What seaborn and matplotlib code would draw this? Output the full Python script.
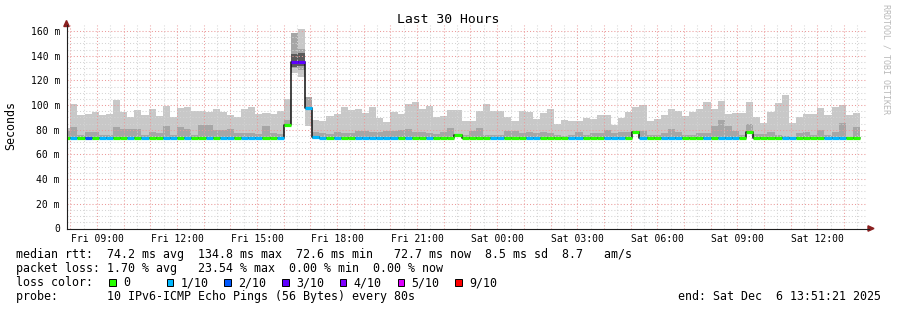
import numpy as np
import matplotlib
matplotlib.use("Agg")
import matplotlib.pyplot as plt
import seaborn as sns
from matplotlib.patches import Rectangle, Polygon
from matplotlib.lines import Line2D
from matplotlib.ticker import FixedLocator, FuncFormatter

sns.set_theme(style="white")
plt.rcParams['font.family'] = ['DejaVu Sans Mono', 'DejaVu Sans']

# ---------------- data (16-minute bins, index = bin number since Fri 00:00) ----------------
first_bin = 29
bin_minutes = 16

ping_max = [81.5, 101.0, 92.0, 92.8, 94.0, 92.0, 92.8, 104.0, 94.7, 90.1,
            96.0, 92.0, 96.6, 91.2, 99.3, 90.0, 98.0, 98.5, 95.3, 95.3,
            94.5, 96.8, 94.5, 92.3, 90.6, 96.8, 98.4, 93.1, 93.6, 92.5,
            95.0, 105.2, 158.7, 162.0, 106.5, 87.9, 87.2, 91.2, 93.1, 98.4,
            95.8, 96.8, 93.8, 98.4, 89.6, 86.5, 94.7, 92.8, 100.9, 102.5,
            96.8, 99.3, 90.7, 91.2, 96.0, 96.0, 87.2, 87.2, 95.2, 100.6,
            95.2, 95.2, 90.1, 87.2, 95.2, 94.7, 88.8, 93.9, 96.6, 84.5,
            87.9, 87.2, 87.2, 89.6, 88.8, 91.7, 91.6, 83.5, 89.7, 94.5,
            98.7, 100.0, 87.2, 88.6, 92.0, 97.0, 95.2, 91.2, 94.0, 97.0,
            102.3, 96.7, 103.3, 92.6, 93.5, 93.5, 102.4, 90.2, 85.3, 94.2,
            101.4, 107.9, 85.8, 90.3, 92.8, 92.8, 97.8, 92.0, 98.2, 100.1,
            91.8, 93.3]

ping_min = [72.5, 72.5, 72.5, 72.5, 72.5, 72.5, 72.5, 72.5, 72.5, 72.5,
            72.5, 72.5, 72.5, 72.5, 72.5, 72.5, 72.5, 72.5, 72.5, 72.5,
            72.5, 72.5, 72.5, 72.5, 72.5, 72.5, 72.5, 72.5, 72.5, 72.5,
            72.5, 83.0, 125.7, 123.0, 83.0, 72.5, 72.5, 72.5, 72.5, 72.5,
            72.5, 72.5, 72.5, 72.5, 72.5, 72.5, 72.5, 72.5, 72.5, 72.5,
            72.5, 72.5, 72.5, 72.5, 72.5, 75.0, 72.5, 72.5, 72.5, 72.5,
            72.5, 72.5, 72.5, 72.5, 72.5, 72.5, 72.5, 72.5, 72.5, 72.5,
            72.5, 72.5, 72.5, 72.5, 72.5, 72.5, 72.5, 72.5, 72.5, 72.5,
            77.5, 72.5, 72.5, 72.5, 72.5, 72.5, 72.5, 72.5, 72.5, 72.5,
            72.5, 72.5, 72.5, 72.5, 72.5, 72.5, 77.5, 72.5, 72.5, 72.5,
            72.5, 72.5, 72.5, 72.5, 72.5, 72.5, 72.5, 72.5, 72.5, 72.5,
            72.5, 72.5]

mid_low = [72.5, 72.5, 72.5, 72.5, 72.5, 72.5, 72.5, 72.5, 72.5, 72.5,
           72.5, 72.5, 72.5, 72.5, 72.5, 72.5, 72.5, 72.5, 72.5, 72.5,
           72.5, 72.5, 72.5, 72.5, 72.5, 72.5, 72.5, 72.5, 72.5, 72.5,
           72.5, 83.0, 129.7, 128.3, 97.0, 72.5, 72.5, 72.5, 72.5, 72.5,
           72.5, 72.5, 72.5, 72.5, 72.5, 72.5, 72.5, 72.5, 72.5, 72.5,
           72.5, 72.5, 72.5, 72.5, 72.5, 75.0, 72.5, 72.5, 72.5, 72.5,
           72.5, 72.5, 72.5, 72.5, 72.5, 72.5, 72.5, 72.5, 72.5, 72.5,
           72.5, 72.5, 72.5, 72.5, 72.5, 72.5, 72.5, 72.5, 72.5, 72.5,
           77.5, 72.5, 72.5, 72.5, 72.5, 72.5, 72.5, 72.5, 72.5, 72.5,
           72.5, 72.5, 72.5, 72.5, 72.5, 72.5, 77.5, 72.5, 72.5, 72.5,
           72.5, 72.5, 72.5, 72.5, 72.5, 72.5, 72.5, 72.5, 72.5, 72.5,
           72.5, 72.5]

mid_high = [79.0, 82.0, 76.0, 78.0, 78.0, 76.0, 76.0, 82.6, 80.7, 80.7,
            80.7, 76.0, 78.5, 77.2, 83.0, 76.0, 82.6, 80.7, 76.0, 84.2,
            84.2, 79.6, 80.0, 80.5, 77.7, 77.7, 77.7, 76.3, 82.7, 77.7,
            76.3, 88.0, 158.7, 145.8, 106.5, 78.3, 77.2, 76.7, 78.3, 77.7,
            77.2, 79.1, 79.1, 78.3, 78.3, 79.3, 79.3, 80.0, 80.7, 77.8,
            78.3, 77.2, 76.6, 78.5, 81.8, 75.9, 75.9, 79.3, 81.3, 75.9,
            75.9, 75.9, 79.3, 79.3, 77.2, 77.8, 77.2, 78.5, 77.2, 75.9,
            75.1, 75.9, 78.5, 75.9, 77.2, 77.2, 80.0, 77.2, 77.8, 78.3,
            79.3, 79.3, 75.9, 75.9, 77.2, 80.7, 77.8, 75.9, 75.9, 77.2,
            77.2, 83.0, 88.3, 83.0, 79.3, 75.9, 84.9, 76.6, 76.6, 77.8,
            75.9, 75.1, 74.5, 77.2, 77.8, 75.9, 80.0, 75.9, 78.5, 85.8,
            74.5, 82.6]

# darkest smoke core (only during the spike bins 61 and 62)
core_bins = [61, 62]
core_low = [131.0, 131.5]
core_high = [141.0, 142.0]

median = [73.3, 73.3, 73.3, 73.3, 73.3, 73.3, 73.3, 73.3, 73.3, 73.3,
          73.3, 73.3, 73.3, 73.3, 73.3, 73.3, 73.3, 73.3, 73.3, 73.3,
          73.3, 73.3, 73.3, 73.3, 73.3, 73.3, 73.3, 73.3, 73.3, 73.3,
          73.3, 83.8, 135.2, 135.0, 97.5, 74.3, 73.3, 73.3, 73.3, 73.3,
          73.3, 73.3, 73.3, 73.3, 73.3, 73.3, 73.3, 73.3, 73.3, 73.3,
          73.3, 73.3, 73.3, 73.3, 73.3, 75.5, 73.3, 73.3, 73.3, 73.3,
          73.3, 73.3, 73.3, 73.3, 73.3, 73.3, 73.3, 73.3, 73.3, 73.3,
          73.3, 73.3, 73.3, 73.3, 73.3, 73.3, 73.3, 73.3, 73.3, 73.3,
          78.5, 73.3, 73.3, 73.3, 73.3, 73.3, 73.3, 73.3, 73.3, 73.3,
          73.3, 73.3, 73.3, 73.3, 73.3, 73.3, 78.5, 73.3, 73.3, 73.3,
          73.3, 73.3, 73.3, 73.3, 73.3, 73.3, 73.3, 73.3, 73.3, 73.3,
          73.3, 73.3]

loss = [0, 1, 0, 2, 0, 1, 1, 0, 0, 1,
        0, 1, 0, 0, 1, 1, 0, 1, 0, 0,
        1, 0, 1, 1, 0, 1, 1, 1, 0, 0,
        1, 0, 3, 3, 1, 1, 1, 0, 1, 0,
        0, 1, 1, 1, 1, 1, 1, 0, 1, 0,
        0, 1, 0, 0, 0, 0, 0, 0, 0, 0,
        1, 1, 0, 0, 0, 1, 1, 0, 0, 0,
        0, 1, 1, 0, 0, 0, 1, 1, 1, 0,
        0, 1, 0, 0, 1, 1, 1, 0, 0, 0,
        1, 0, 1, 1, 1, 0, 0, 0, 0, 0,
        0, 1, 1, 0, 0, 0, 0, 1, 1, 1,
        0, 0]

loss_labels = ["0", "1/10", "2/10", "3/10", "4/10", "5/10", "9/10"]
loss_colors = ["#26ff00", "#00b8ff", "#0059ff", "#5e00ff", "#7e00ff", "#dd00ff", "#ff0000"]

y_ticks = [0, 20, 40, 60, 80, 100, 120, 140, 160]
x_label_hours = [9, 12, 15, 18, 21, 24, 27, 30, 33, 36]
x_labels = ["Fri 09:00", "Fri 12:00", "Fri 15:00", "Fri 18:00", "Fri 21:00",
            "Sat 00:00", "Sat 03:00", "Sat 06:00", "Sat 09:00", "Sat 12:00"]

title = "Last 30 Hours"
legend_lines = [
    "median rtt:  74.2 ms avg  134.8 ms max  72.6 ms min   72.7 ms now  8.5 ms sd  8.7   am/s",
    "packet loss: 1.70 % avg   23.54 % max  0.00 % min  0.00 % now",
    "loss color:",
    "probe:       10 IPv6-ICMP Echo Pings (56 Bytes) every 80s",
]
end_text = "end: Sat Dec  6 13:51:21 2025"

# ---------------- figure ----------------
W, H = 897, 310
fig = plt.figure(figsize=(W / 100, H / 100), dpi=100)
fig.patch.set_facecolor("white")

ax_l, ax_r, ax_t, ax_b = 66.5, 866.8, 25.0, 228.5
ax = fig.add_axes([ax_l / W, 1 - ax_b / H, (ax_r - ax_l) / W, (ax_b - ax_t) / H])
ax.set_facecolor("white")

bw = bin_minutes / 60.0
n = len(ping_max)
left = (first_bin + np.arange(n)) * bw
pmin = np.array(ping_min)
pmax = np.array(ping_max)
mlo = np.array(mid_low)
mhi = np.array(mid_high)
med = np.array(median)

ax.bar(left, pmax - pmin, bottom=pmin, width=bw, align="edge", color="#c8c8c8",
       linewidth=0, antialiased=False, zorder=1)
ax.bar(left, mhi - mlo, bottom=mlo, width=bw, align="edge", color="#a6a6a6",
       linewidth=0, antialiased=False, zorder=1.1)
cb = np.array(core_bins) * bw
ax.bar(cb, np.array(core_high) - np.array(core_low), bottom=core_low, width=bw,
       align="edge", color="#5a5a5a", linewidth=0, antialiased=False, zorder=1.2)

edges = np.append(left, left[-1] + bw)
med_ext = np.append(med, med[-1])
sns.lineplot(x=edges, y=med_ext, drawstyle="steps-post", color="#101010",
             linewidth=1.1, ax=ax, estimator=None, sort=False, zorder=3)
ax.hlines(med, left, left + bw, colors=[loss_colors[i] for i in loss],
          linewidth=2.3, zorder=4)

ax.set_xlim(7.856, 37.856)
ax.set_ylim(0, 164.9)

ax.xaxis.set_major_locator(FixedLocator(np.arange(8, 38, 1)))
ax.xaxis.set_minor_locator(FixedLocator(np.arange(8.5, 38, 1)))
lab_map = dict(zip(x_label_hours, x_labels))
ax.xaxis.set_major_formatter(FuncFormatter(lambda v, p: lab_map.get(int(round(v)), "")))
ax.yaxis.set_major_locator(FixedLocator(y_ticks))
ax.yaxis.set_minor_locator(FixedLocator([v for v in range(0, 165, 5) if v % 20]))
ax.yaxis.set_major_formatter(FuncFormatter(lambda v, p: "0" if v == 0 else f"{int(v)} m"))

ax.set_axisbelow("line")
ax.grid(which="major", color="#eb9a9a", linestyle=(0, (1, 2)), linewidth=0.75)
ax.grid(which="minor", color="#d4d4d4", linestyle=(0, (1, 2)), linewidth=0.75)

ax.tick_params(axis="both", which="both", labelsize=7.05, colors="#202020",
               labelcolor="black", width=0.7)
ax.tick_params(axis="y", which="major", length=2.2, pad=2.5)
ax.tick_params(axis="y", which="minor", length=1.2)
ax.tick_params(axis="x", which="major", length=1.5, pad=2.2)
ax.tick_params(axis="x", which="minor", length=0)

for s in ["top", "right"]:
    ax.spines[s].set_visible(False)
for s in ["left", "bottom"]:
    ax.spines[s].set_color("#1f1f1f")
    ax.spines[s].set_linewidth(0.8)
    ax.spines[s].set_zorder(5)

# axis extensions and arrows (rrdtool style)
def fx(x):
    return x / W

def fy(y):
    return 1 - y / H

fig.add_artist(Line2D([fx(ax_l), fx(ax_l)], [fy(ax_t), fy(25.5)], color="#1f1f1f",
                      linewidth=0.8, transform=fig.transFigure))
fig.add_artist(Line2D([fx(ax_r), fx(868.5)], [fy(ax_b), fy(ax_b)], color="#1f1f1f",
                      linewidth=0.8, transform=fig.transFigure))
arrow_col = "#8a2020"
fig.add_artist(Polygon([[fx(63.8), fy(26.5)], [fx(69.2), fy(26.5)], [fx(66.5), fy(20.5)]],
                       closed=True, color=arrow_col, transform=fig.transFigure))
fig.add_artist(Polygon([[fx(868), fy(225.8)], [fx(868), fy(231.2)], [fx(874), fy(228.5)]],
                       closed=True, color=arrow_col, transform=fig.transFigure))

# texts
fig.text(fx(448), fy(19.5), title, ha="center", va="center", fontsize=9.45, color="black")
fig.text(fx(11), fy(126), "Seconds", rotation=90, ha="center", va="center",
         fontsize=8.4, color="black")
fig.text(fx(886), fy(4), "RRDTOOL / TOBI OETIKER", rotation=-90, ha="center", va="top",
         fontsize=6.0, color="#b9b9b9")

row_y = [254.5, 268.5, 282.5, 296.5]
for txt, yy in zip(legend_lines, row_y):
    fig.text(fx(16), fy(yy), txt, ha="left", va="center", fontsize=8.37, color="black")
fig.text(fx(880.5), fy(row_y[3]), end_text, ha="right", va="center", fontsize=8.37,
         color="black")

for i, (lab, col) in enumerate(zip(loss_labels, loss_colors)):
    bx = 109.0 + i * 57.7
    fig.add_artist(Rectangle((fx(bx), fy(285.8)), 6.6 / W, 6.6 / H, facecolor=col,
                             edgecolor="black", linewidth=0.7, transform=fig.transFigure))
    fig.text(fx(bx + 14.0), fy(row_y[2]), lab, ha="left", va="center", fontsize=8.37,
             color="black")

fig.savefig("out.png", dpi=100, facecolor="white")
